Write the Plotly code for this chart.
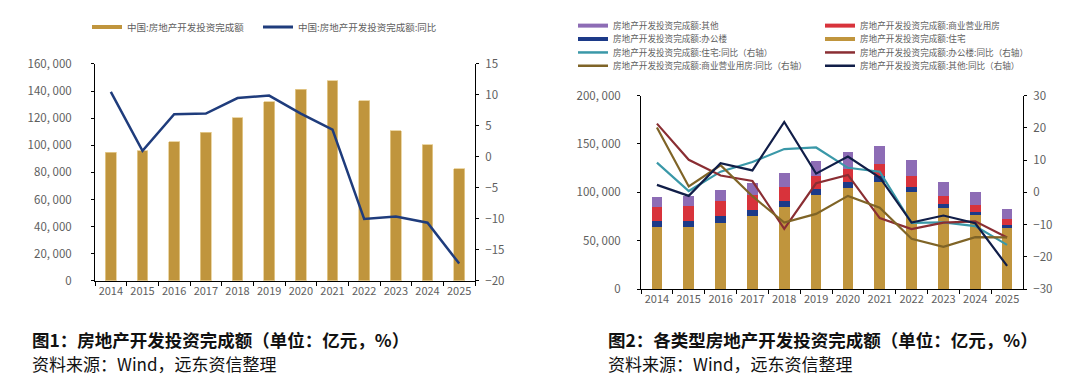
import plotly.graph_objects as go

years = ["2014", "2015", "2016", "2017", "2018", "2019", "2020", "2021", "2022", "2023", "2024", "2025"]

# Figure 1
total_inv = [95036, 95979, 102581, 109799, 120264, 132194, 141443, 147602, 132895, 110913, 100280, 82800]
total_yoy = [10.5, 1.0, 6.9, 7.0, 9.5, 9.9, 7.0, 4.4, -10.0, -9.6, -10.6, -17.2]

# Figure 2
res_inv = [64352, 64595, 68704, 75148, 85192, 97071, 104446, 111173, 100646, 83820, 76040, 63000]
off_inv = [5641, 6210, 6533, 6761, 5996, 6163, 6494, 5974, 5291, 4531, 3860, 3300]
com_inv = [14346, 14607, 15838, 15640, 14177, 13226, 13076, 12445, 10647, 8055, 6948, 6000]
oth_inv = [10697, 10567, 11506, 12250, 14899, 15734, 17427, 18010, 16311, 14507, 13432, 10500]
res_yoy = [9.2, 0.4, 6.4, 9.4, 13.4, 13.9, 7.6, 6.4, -9.5, -9.3, -10.5, -16.3]
off_yoy = [21.3, 10.1, 5.2, 3.5, -11.3, 2.8, 5.4, -8.0, -11.4, -9.4, -9.0, -14.0]
com_yoy = [20.1, 1.8, 8.4, -1.2, -9.4, -6.7, -1.1, -4.8, -14.4, -16.9, -13.9, -14.0]
oth_yoy = [2.3, -1.1, 9.0, 6.8, 21.8, 5.8, 11.1, 4.6, -9.4, -7.2, -9.6, -22.8]

left_ticks = [0, 20000, 40000, 60000, 80000, 100000, 120000, 140000, 160000]
left_ticktext = ["0", "20, 000", "40, 000", "60, 000", "80, 000", "100, 000", "120, 000", "140, 000", "160, 000"]
right_ticks = [0, 50000, 100000, 150000, 200000]
right_ticktext = ["0", "50, 000", "100, 000", "150, 000", "200, 000"]

GOLD = "#C0953D"
NAVY = "#1F3C7C"
PURPLE = "#8D6CB5"
RED = "#D8333B"
DBLUE = "#1C3A88"
TEAL = "#3A98A8"
MAROON = "#8A2E33"
OLIVE = "#7F6427"
DNAVY = "#111E48"
GREY = "#5E5E5E"
W, H = 1071, 381
FONT = "Noto Sans CJK SC"

fig = go.Figure()

# ---------- Figure 1 ----------
fig.add_trace(go.Bar(x=years, y=total_inv, marker=dict(color=GOLD, line=dict(color="#E6CD92", width=0.8)),
                     xaxis="x", yaxis="y", showlegend=False))
fig.add_trace(go.Scatter(x=years, y=total_yoy, mode="lines", line=dict(color=NAVY, width=2.5),
                         xaxis="x", yaxis="y2", showlegend=False))

# ---------- Figure 2 ----------
for vals, col in [(res_inv, GOLD), (off_inv, DBLUE), (com_inv, RED), (oth_inv, PURPLE)]:
    fig.add_trace(go.Bar(x=years, y=vals, marker=dict(color=col, line=dict(width=0)),
                         xaxis="x2", yaxis="y3", showlegend=False))
for vals, col in [(res_yoy, TEAL), (off_yoy, MAROON), (com_yoy, OLIVE), (oth_yoy, DNAVY)]:
    fig.add_trace(go.Scatter(x=years, y=vals, mode="lines", line=dict(color=col, width=2.2),
                             xaxis="x2", yaxis="y4", showlegend=False))

# legend entries: (name, colour, line width, swatch-left px, row-centre px, font size)
legend_items = [
    ("中国:房地产开发投资完成额", GOLD, 4, 95, 25.5, 9.5),
    ("中国:房地产开发投资完成额:同比", NAVY, 3, 266, 25.5, 9.5),
    ("房地产开发投资完成额:其他", PURPLE, 4, 581, 24, 8.6),
    ("房地产开发投资完成额:商业营业用房", RED, 4, 828, 24, 8.6),
    ("房地产开发投资完成额:办公楼", DBLUE, 4, 581, 38, 8.6),
    ("房地产开发投资完成额:住宅", GOLD, 4, 828, 38, 8.6),
    ("房地产开发投资完成额:住宅:同比（右轴）", TEAL, 2.5, 581, 52, 8.6),
    ("房地产开发投资完成额:办公楼:同比（右轴）", MAROON, 2.5, 828, 52, 8.6),
    ("房地产开发投资完成额:商业营业用房:同比（右轴）", OLIVE, 2.5, 581, 66, 8.6),
    ("房地产开发投资完成额:其他:同比（右轴）", DNAVY, 2.5, 828, 66, 8.6),
]
legend_layouts = {}
for i, (name, col, wd, lx, ly, fs) in enumerate(legend_items):
    key = "legend" if i == 0 else f"legend{i + 1}"
    fig.add_trace(go.Scatter(x=[None], y=[None], mode="lines", line=dict(color=col, width=wd),
                             name=name, xaxis="x", yaxis="y", legend=key))
    legend_layouts[key] = dict(x=(lx - 16) / W, y=1 - (ly - 15) / H, xanchor="left", yanchor="middle",
                               orientation="v", traceorder="normal", itemwidth=30,
                               font=dict(family=FONT, size=fs, color=GREY),
                               bgcolor="rgba(0,0,0,0)", borderwidth=0)

axis_common = dict(showgrid=False, zeroline=False, showline=True, linecolor="#000000", linewidth=1,
                   ticks="outside", ticklen=3, tickcolor="#000000",
                   tickfont=dict(family=FONT, size=11.5, color=GREY))
xaxis_common = {**axis_common, "ticklen": 4, "tickfont": dict(family=FONT, size=11, color=GREY)}

fig.update_layout(
    width=W, height=H,
    margin=dict(l=0, r=0, t=0, b=0),
    paper_bgcolor="white", plot_bgcolor="white",
    barmode="stack", bargap=0.66,
    font=dict(family=FONT, color=GREY),
    xaxis=dict(domain=[87 / W, 467 / W], anchor="y", type="category", tickson="boundaries",
               tickangle=0, **xaxis_common),
    yaxis=dict(domain=[1 - 275.5 / H, 1 - 49 / H], range=[0, 160000], tickvals=left_ticks,
               ticktext=left_ticktext, anchor="x", ticklabelstandoff=17, **axis_common),
    yaxis2=dict(overlaying="y", side="right", anchor="x", range=[-20, 15], dtick=5,
                ticklabelstandoff=4, **axis_common),
    xaxis2=dict(domain=[633 / W, 1015 / W], anchor="y3", type="category", tickson="boundaries",
                tickangle=0, **xaxis_common),
    yaxis3=dict(domain=[1 - 284 / H, 1 - 82 / H], range=[0, 200000], tickvals=right_ticks,
                ticktext=right_ticktext, anchor="x2", ticklabelstandoff=14, **axis_common),
    yaxis4=dict(overlaying="y3", side="right", anchor="x2", range=[-30, 30], dtick=10,
                ticklabelstandoff=4, **axis_common),
    **legend_layouts,
)

captions = [
    (22, 337, "<b>图1：房地产开发投资完成额（单位：亿元，%）</b>", 17.5),
    (22, 361.5, "资料来源：Wind，远东资信整理", 17),
    (598, 337, "<b>图2：各类型房地产开发投资完成额（单位：亿元，%）</b>", 17.5),
    (598, 361.5, "资料来源：Wind，远东资信整理", 17),
]
for x, y, t, fs in captions:
    fig.add_annotation(x=x / W, y=1 - y / H, xref="paper", yref="paper", text=t, showarrow=False,
                       xanchor="left", yanchor="middle", font=dict(family=FONT, size=fs, color="#111111"))

fig.write_html("out.html")
